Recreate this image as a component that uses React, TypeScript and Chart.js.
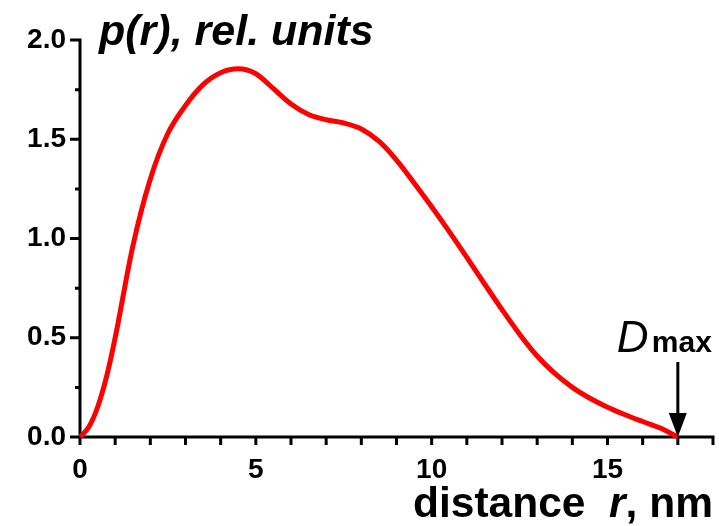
import React, { useEffect, useRef } from 'react';
import { Chart, registerables } from 'chart.js';

Chart.register(...registerables);

// distance r, nm
const rValues = [0, 0.25, 0.5, 0.75, 1, 1.5, 2, 2.5, 3, 3.5, 4, 4.5, 5, 5.5, 6, 6.5, 7, 7.5, 8, 8.5, 9, 9.5, 10, 10.5, 11, 11.5, 12, 12.5, 13, 13.5, 14, 14.5, 15, 15.5, 16, 16.5, 17];
// p(r), rel. units
const pValues = [0, 0.05, 0.15, 0.3, 0.5, 0.96, 1.3, 1.53, 1.67, 1.775, 1.835, 1.855, 1.83, 1.755, 1.678, 1.625, 1.598, 1.582, 1.552, 1.49, 1.395, 1.28, 1.16, 1.035, 0.905, 0.772, 0.642, 0.518, 0.408, 0.32, 0.25, 0.195, 0.15, 0.112, 0.078, 0.045, 0];

const xTickValues = [0, 1, 2, 3, 4, 5, 6, 7, 8, 9, 10, 11, 12, 13, 14, 15, 16, 17, 18];
const yMajorTicks = [0, 0.5, 1, 1.5, 2];
const yMinorTicks = [0.25, 0.75, 1.25, 1.75];
const dMax = 17;

const FONT = '"Liberation Sans", Arial, Helvetica, sans-serif';

const decor = {
  id: 'decor',
  beforeDatasetsDraw(chart: any) {
    const { ctx, scales } = chart;
    const x = scales.x;
    const y = scales.y;
    const x0 = x.getPixelForValue(0);
    const x1 = x.getPixelForValue(18);
    const y0 = y.getPixelForValue(0);
    const y1 = y.getPixelForValue(2);
    ctx.save();
    ctx.strokeStyle = '#000';
    ctx.lineWidth = 3;
    ctx.lineCap = 'butt';
    ctx.beginPath();
    ctx.moveTo(x0, y1 - 1.5);
    ctx.lineTo(x0, y0 + 1.5);
    ctx.moveTo(x0 - 1.5, y0);
    ctx.lineTo(x1 + 1.5, y0);
    for (const v of xTickValues) {
      const px = x.getPixelForValue(v);
      ctx.moveTo(px, y0);
      ctx.lineTo(px, y0 + 8);
    }
    for (const v of yMajorTicks) {
      const py = y.getPixelForValue(v);
      ctx.moveTo(x0, py);
      ctx.lineTo(x0 - 10, py);
    }
    for (const v of yMinorTicks) {
      const py = y.getPixelForValue(v);
      ctx.moveTo(x0, py);
      ctx.lineTo(x0 - 5, py);
    }
    ctx.stroke();
    ctx.restore();
  },
  afterDraw(chart: any) {
    const { ctx, scales } = chart;
    const x = scales.x;
    const y = scales.y;
    ctx.save();
    ctx.fillStyle = '#000';
    ctx.textBaseline = 'alphabetic';
    ctx.textAlign = 'left';
    // y-axis title
    ctx.font = `italic bold 43px ${FONT}`;
    ctx.fillText('p(r), rel. units', 99, 45);
    // x-axis title
    let cx = 413;
    const by = 517;
    ctx.font = `bold 42.5px ${FONT}`;
    ctx.fillText('distance  ', cx, by);
    cx += ctx.measureText('distance  ').width;
    ctx.font = `italic bold 42.5px ${FONT}`;
    ctx.fillText('r', cx, by);
    cx += ctx.measureText('r').width;
    ctx.font = `bold 42.5px ${FONT}`;
    ctx.fillText(', nm', cx, by);
    // Dmax arrow
    const ax = x.getPixelForValue(dMax);
    const tip = y.getPixelForValue(0);
    ctx.strokeStyle = '#000';
    ctx.lineWidth = 3;
    ctx.beginPath();
    ctx.moveTo(ax, tip - 75);
    ctx.lineTo(ax, tip - 20);
    ctx.stroke();
    ctx.beginPath();
    ctx.moveTo(ax - 9, tip - 24);
    ctx.lineTo(ax + 9, tip - 24);
    ctx.lineTo(ax, tip);
    ctx.closePath();
    ctx.fill();
    ctx.font = `italic 44px ${FONT}`;
    ctx.fillText('D', ax - 61, tip - 85);
    ctx.font = `bold 30px ${FONT}`;
    ctx.fillText('max', ax - 26, tip - 85);
    ctx.restore();
  },
};

export default function App() {
  const ref = useRef<HTMLCanvasElement | null>(null);
  useEffect(() => {
    if (!ref.current) return;
    const chart = new Chart(ref.current, {
      type: 'line',
      data: {
        datasets: [
          {
            data: rValues.map((r, i) => ({ x: r, y: pValues[i] })),
            borderColor: '#ff0000',
            borderWidth: 5,
            pointRadius: 0,
            fill: false,
            cubicInterpolationMode: 'monotone',
            clip: false as any,
          },
        ],
      },
      options: {
        responsive: false,
        animation: false,
        maintainAspectRatio: false,
        layout: { padding: { top: 40, right: 6, left: 0, bottom: 0 } },
        plugins: { legend: { display: false }, tooltip: { enabled: false }, title: { display: false } },
        scales: {
          x: {
            type: 'linear',
            min: 0,
            max: 18,
            afterFit: (s: any) => { s.height = 89; },
            border: { display: false },
            grid: { display: false, drawTicks: false },
            ticks: {
              stepSize: 5,
              includeBounds: false,
              maxRotation: 0,
              padding: 16,
              color: '#000',
              font: { family: FONT, size: 28, weight: 'bold' },
            },
          },
          y: {
            type: 'linear',
            min: 0,
            max: 2,
            afterFit: (s: any) => { s.width = 80; },
            border: { display: false },
            grid: { display: false, drawTicks: false },
            ticks: {
              stepSize: 0.5,
              padding: 14,
              color: '#000',
              font: { family: FONT, size: 28, weight: 'bold' },
              callback: (v: any) => Number(v).toFixed(1),
            },
          },
        },
      },
      plugins: [decor],
    });
    return () => chart.destroy();
  }, []);
  return (
    <div style={{ position: 'absolute', left: 0, top: 0, width: 719, height: 526, background: '#fff' }}>
      <canvas ref={ref} width={719} height={526} style={{ display: 'block' }} />
    </div>
  );
}
